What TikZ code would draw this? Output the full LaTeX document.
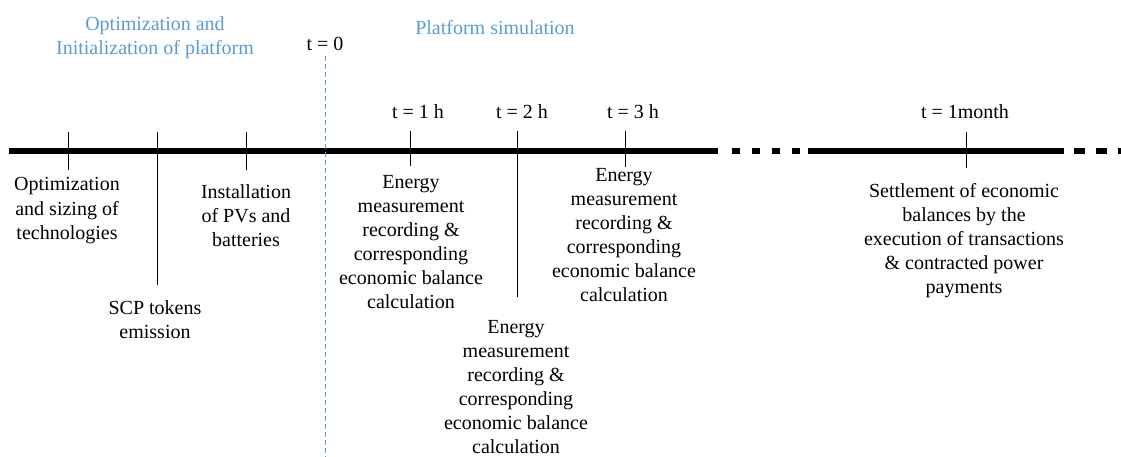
\documentclass[tikz,border=0pt]{standalone}
\usepackage{fontspec}
\setmainfont{Liberation Serif}
\usetikzlibrary{positioning, calc}
\definecolor{phaseblue}{RGB}{91,155,213}
\tikzset{
  axis/.style={line width=5.5pt, draw=black},
  gap/.style={line width=5.5pt, draw=black, dash pattern=on 8pt off 12pt},
  tickln/.style={line width=1pt, draw=black},
  sep/.style={line width=1pt, draw=phaseblue, dash pattern=on 5pt off 3pt},
  lbl/.style={align=center, inner sep=0pt, anchor=base},
  phase/.style={align=center, inner sep=0pt, anchor=base, text=phaseblue}
}

\begin{document}
\begin{tikzpicture}[x=1pt, y=-1pt, font=\fontsize{20}{24}\selectfont]
\useasboundingbox (0,0) rectangle (1121,457);
% time axis
\coordinate (ax0) at (9,151);
\coordinate (ax1) at (718,151);
\coordinate (ax2) at (808,151);
\coordinate (ax3) at (1064,151);
\coordinate (ax4) at (1121,151);
\draw[axis] (ax0) -- (ax1);
\draw[gap, shorten <=14pt, shorten >=8pt] (ax1) -- (ax2);
\draw[axis] (ax2) -- (ax3);
\draw[gap, dash pattern=on 11pt off 11pt, shorten <=10pt] (ax3) -- (ax4);
% phases (base = last line)
\node[phase] (prep) at (155,55) {Optimization and\\Initialization of platform};
\node[phase] (sim) at (495,35) {Platform simulation};
\node[lbl] (t0) at (325,51) {t = 0};
\coordinate (t0a) at (325,56);
\coordinate (t0b) at (325,457);
\draw[sep] (t0a) -- (t0b);
% time stamps
\node[lbl] (t1) at (418,119) {t = 1 h};
\node[lbl] (t2) at (522,119) {t = 2 h};
\node[lbl] (t3) at (633,119) {t = 3 h};
\node[lbl] (tm) at (965,119) {t = 1month};
% ticks
\coordinate (k1a) at (68,132);  \coordinate (k1b) at (68,170);
\coordinate (k2a) at (157,132); \coordinate (k2b) at (157,285);
\coordinate (k3a) at (246,132); \coordinate (k3b) at (246,170);
\coordinate (k4a) at (410,131); \coordinate (k4b) at (410,166);
\coordinate (k5a) at (517,131); \coordinate (k5b) at (517,297);
\coordinate (k6a) at (625,131); \coordinate (k6b) at (625,167);
\coordinate (k7a) at (966,132); \coordinate (k7b) at (966,168);
\draw[tickln] (k1a) -- (k1b);
\draw[tickln] (k2a) -- (k2b);
\draw[tickln] (k3a) -- (k3b);
\draw[tickln] (k4a) -- (k4b);
\draw[tickln] (k5a) -- (k5b);
\draw[tickln] (k6a) -- (k6b);
\draw[tickln] (k7a) -- (k7b);
% events (base = last line)
\node[lbl] (sizing) at (67,239) {Optimization\\and sizing of\\technologies};
\node[lbl] (tokens) at (155,338) {SCP tokens\\emission};
\node[lbl] (install) at (246,246) {Installation\\of PVs and\\batteries};
\node[lbl] (meas1) at (411,308) {Energy\\measurement\\recording \&\\corresponding\\economic balance\\calculation};
\node[lbl] (meas2) at (516,453) {Energy\\measurement\\recording \&\\corresponding\\economic balance\\calculation};
\node[lbl] (meas3) at (624,301) {Energy\\measurement\\recording \&\\corresponding\\economic balance\\calculation};
\node[lbl] (settle) at (964,293) {Settlement of economic\\balances by the\\execution of transactions\\\& contracted power\\payments};
\end{tikzpicture}
\end{document}
